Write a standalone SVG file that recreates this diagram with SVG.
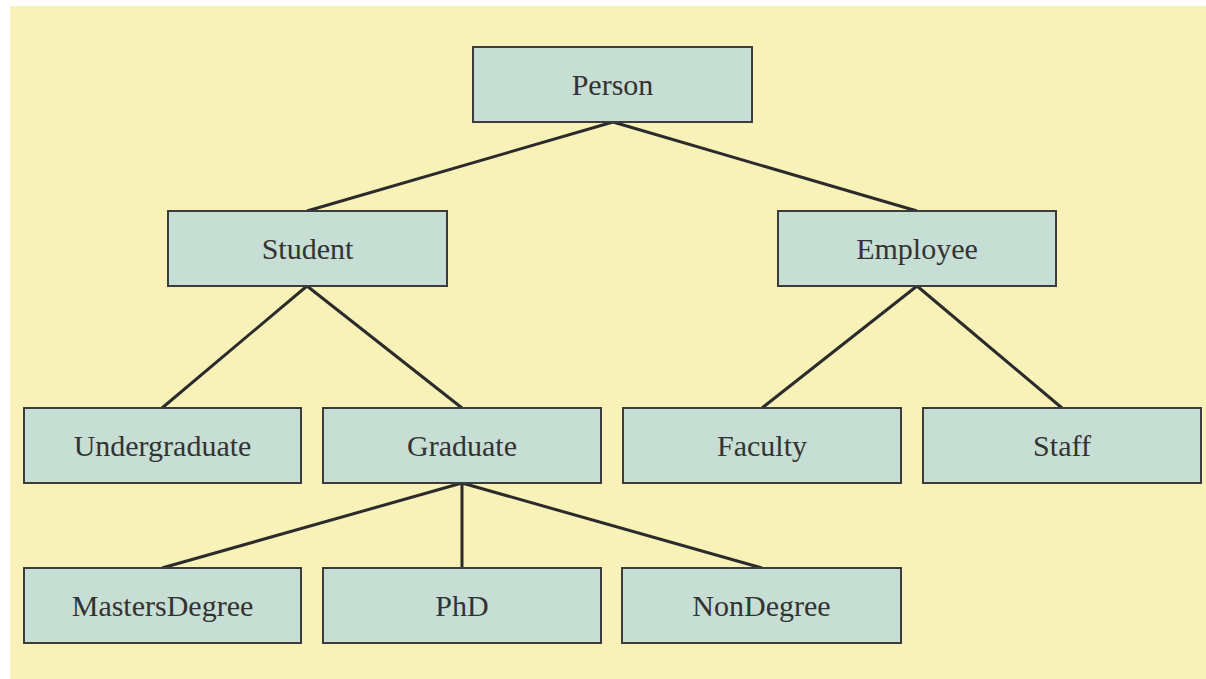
<svg xmlns="http://www.w3.org/2000/svg" width="1206" height="679" viewBox="0 0 1206 679">
<style>
.box{fill:#c6ded3;stroke:#3c3c3c;stroke-width:2}
.lbl{font-family:"Liberation Serif",serif;font-size:30px;fill:#333;text-anchor:middle}
.edge{stroke:#2b2b2b;stroke-width:3;fill:none}
</style>
<rect x="0" y="0" width="1206" height="679" fill="#ffffff"/>
<rect x="10" y="6" width="1196" height="673" fill="#f8f1b8"/>
<g id="connectors">
<line class="edge" x1="613" y1="122" x2="307" y2="211"/>
<line class="edge" x1="613" y1="122" x2="917" y2="211"/>
<line class="edge" x1="307" y1="286" x2="162" y2="408"/>
<line class="edge" x1="307" y1="286" x2="462" y2="408"/>
<line class="edge" x1="917" y1="286" x2="762" y2="408"/>
<line class="edge" x1="917" y1="286" x2="1062" y2="408"/>
<line class="edge" x1="462" y1="483" x2="162" y2="568"/>
<line class="edge" x1="462" y1="483" x2="462" y2="568"/>
<line class="edge" x1="462" y1="483" x2="762" y2="568"/>
</g>
<g id="person"><rect class="box" x="473" y="47" width="279" height="75"/><text class="lbl" x="612.5" y="95">Person</text></g>
<g id="student"><rect class="box" x="168" y="211" width="279" height="75"/><text class="lbl" x="307.5" y="259">Student</text></g>
<g id="employee"><rect class="box" x="778" y="211" width="278" height="75"/><text class="lbl" x="917" y="259">Employee</text></g>
<g id="undergraduate"><rect class="box" x="24" y="408" width="277" height="75"/><text class="lbl" x="162.5" y="456">Undergraduate</text></g>
<g id="graduate"><rect class="box" x="323" y="408" width="278" height="75"/><text class="lbl" x="462" y="456">Graduate</text></g>
<g id="faculty"><rect class="box" x="623" y="408" width="278" height="75"/><text class="lbl" x="762" y="456">Faculty</text></g>
<g id="staff"><rect class="box" x="923" y="408" width="278" height="75"/><text class="lbl" x="1062" y="456">Staff</text></g>
<g id="mastersdegree"><rect class="box" x="24" y="568" width="277" height="75"/><text class="lbl" x="162.5" y="616">MastersDegree</text></g>
<g id="phd"><rect class="box" x="323" y="568" width="278" height="75"/><text class="lbl" x="462" y="616">PhD</text></g>
<g id="nondegree"><rect class="box" x="622" y="568" width="279" height="75"/><text class="lbl" x="761.5" y="616">NonDegree</text></g>
</svg>
